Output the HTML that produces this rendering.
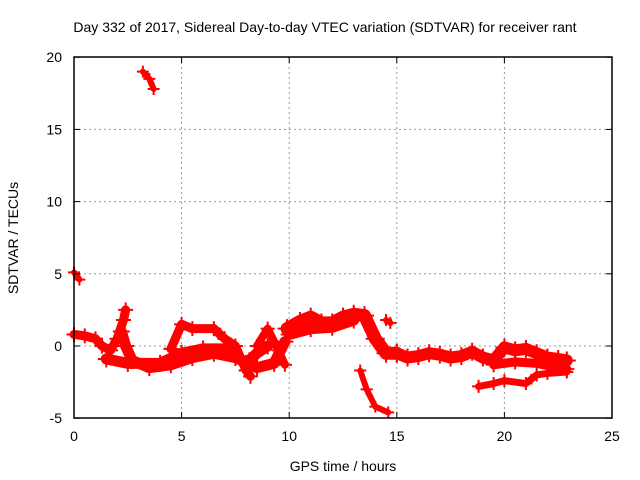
<!DOCTYPE html>
<html><head><meta charset="utf-8"><style>
body{margin:0;background:#fff}
svg{display:block;font-family:"Liberation Sans",sans-serif;font-size:14px}
</style></head><body>
<svg id="chart" width="640" height="480">
<text x="325" y="32" text-anchor="middle">Day 332 of 2017, Sidereal Day-to-day VTEC variation (SDTVAR) for receiver rant</text>
<text x="343" y="471" text-anchor="middle">GPS time / hours</text>
<text transform="translate(18,238) rotate(-90)" text-anchor="middle">SDTVAR / TECUs</text>
<g id="grid"></g><g id="marks"></g>
<rect x="74" y="57" width="538" height="361" fill="none" stroke="#000" stroke-width="1.5"/>
<g id="ticks"></g>
</svg>
<script>
const xTicks=[0,5,10,15,20,25];
const yTicks=[-5,0,5,10,15,20];
const trackA=[[0,0.8],[0.5,0.7],[1,0.5],[1.3,0],[1.7,-0.3],[2,0.5],[2.3,1.8],[2.4,2.5]];
const trackB=[[2.2,1.0],[2.4,0],[2.7,-1],[3.5,-1.5],[4.5,-1.3],[5.5,-0.8],[6.5,-0.5],[7.5,-0.8],[8.5,-1.5],[9.3,-1.2],[9.8,0.3]];
const trackC=[[1.5,-0.9],[2.5,-1.2],[4,-1.2],[5,-0.5],[6,-0.2],[7,-0.2],[8,-1.2],[8.5,-0.5],[9,0]];
const trackD=[[4.5,-0.2],[5,1.5],[5.5,1.2],[6.5,1.2],[7,0.5],[7.5,0],[8,-1.7],[8.2,-2.1]];
const trackE=[[8.5,0],[9,1.2],[9.5,-0.3],[9.8,-1.3]];
const trackF=[[9.9,1.2],[10.5,1.7],[11,2],[11.5,1.6],[12,1.6],[12.5,2],[13,2.2],[13.5,2.1],[14,0.5],[14.5,-0.5],[15,-0.5]];
const trackG=[[10,0.8],[11,1.2],[12,1.3],[13,1.8]];
const trackH=[[15,-0.5],[15.5,-0.8],[16,-0.7],[16.5,-0.5],[17,-0.6],[17.5,-0.8],[18,-0.7],[18.5,-0.4],[19,-0.8],[19.5,-1.0],[20,-0.1],[20.5,-0.3],[21,-0.2],[21.5,-0.5],[22,-0.8],[22.5,-0.9],[22.9,-1.0]];
const trackI=[[18.8,-2.8],[19.5,-2.6],[20,-2.4],[21,-2.6],[21.5,-2],[22,-1.9],[22.9,-1.8]];
const trackJ=[[19.5,-1.3],[20.5,-1.1],[21.5,-1.2],[22.5,-1.5],[22.9,-1.6]];
const trackK=[[13.3,-1.7],[13.6,-3],[14,-4.2],[14.6,-4.6]];
const trackL=[[3.2,19],[3.5,18.5],[3.7,17.8]];
const trackM=[[0,5.1],[0.25,4.6]];
const trackN=[[14.5,1.8],[14.7,1.6]];
const tracks=[[trackA,9],[trackB,11],[trackC,11],[trackD,9],[trackE,8],[trackF,13],[trackG,11],[trackH,12],[trackI,7],[trackJ,9],[trackK,6],[trackL,6],[trackM,6],[trackN,6]];
const X=t=>74+t*538/25, Y=v=>346-v*361/25;
const ns="http://www.w3.org/2000/svg";
const grid=document.getElementById('grid'),ticks=document.getElementById('ticks'),marks=document.getElementById('marks');
function mk(tag,at,p){const e=document.createElementNS(ns,tag);for(const k in at)e.setAttribute(k,at[k]);p.appendChild(e);return e;}
xTicks.forEach(t=>{const x=X(t);
 if(t>0&&t<25){const g=mk('line',{x1:x,x2:x,y1:57,y2:418,stroke:'#999','stroke-dasharray':'2,3'},grid);
 
 }
 mk('line',{x1:x,x2:x,y1:418,y2:412,stroke:'#000'},ticks);mk('line',{x1:x,x2:x,y1:57,y2:63,stroke:'#000'},ticks);
 const l=mk('text',{x:x,y:441,'text-anchor':'middle'},ticks);l.textContent=t;
 
 });
yTicks.forEach(v=>{const y=Y(v);
 if(v>-5&&v<20){const g=mk('line',{x1:74,x2:612,y1:y,y2:y,stroke:'#999','stroke-dasharray':'2,3'},grid);
 
 }
 mk('line',{x1:74,x2:80,y1:y,y2:y,stroke:'#000'},ticks);mk('line',{x1:612,x2:606,y1:y,y2:y,stroke:'#000'},ticks);
 const l=mk('text',{x:62,y:y+5,'text-anchor':'end'},ticks);l.textContent=v;
 
 });
tracks.forEach(([pts,w])=>{
 const p=mk('polyline',{points:pts.map(q=>X(q[0])+','+Y(q[1])).join(' '),fill:'none',stroke:'#f00','stroke-width':w,'stroke-linejoin':'round','stroke-linecap':'round'},marks);
 
 
 pts.forEach(q=>{const x=X(q[0]),y=Y(q[1]);
  const m=mk('path',{d:`M${x-w/2-3},${y}h${w+6}M${x},${y-w/2-3}v${w+6}`,stroke:'#f00','stroke-width':2},marks);
  
  });
});
</script>
</body></html>
